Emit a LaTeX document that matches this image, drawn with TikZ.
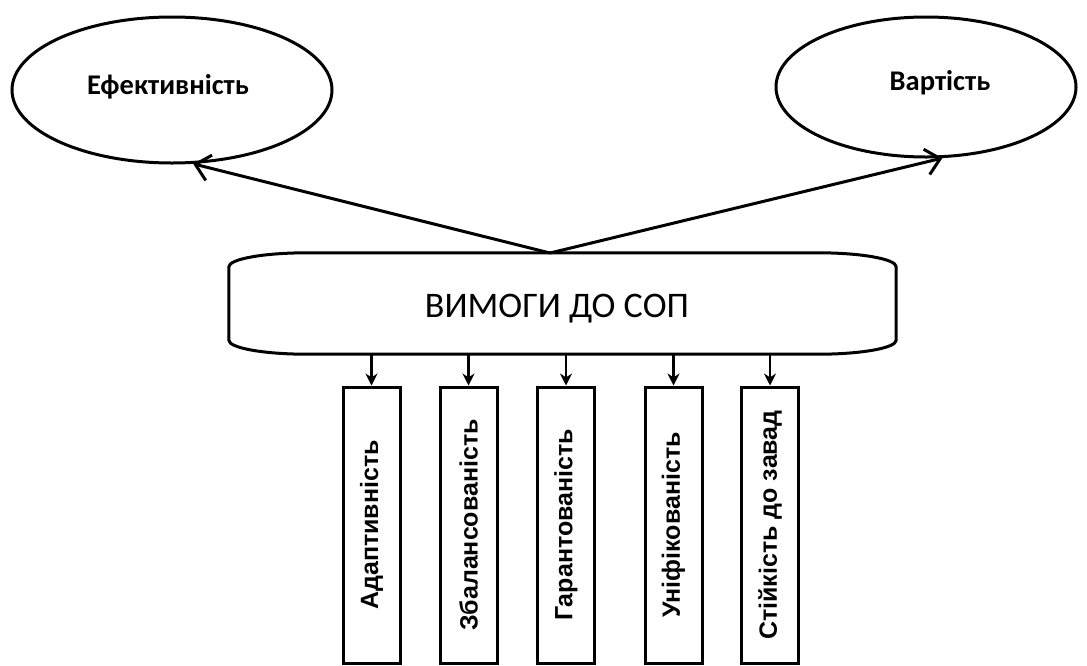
\documentclass[tikz,border=0pt]{standalone}
\usepackage{fontspec}
\usepackage{graphicx}
\usetikzlibrary{arrows.meta,shapes.geometric}
\newfontfamily\calibrifont{Carlito}
\newfontfamily\arialfont{Liberation Sans}

\tikzset{
  oval/.style={draw, ellipse, line width=3pt, inner sep=0pt},
  ovaltext/.style={font=\calibrifont\bfseries\fontsize{28.5}{32}\selectfont, inner sep=0pt},
  hub/.style={draw=none, minimum width=667pt, minimum height=101pt, inner sep=0pt},
  hubtext/.style={font=\calibrifont\fontsize{36}{40}\selectfont, inner sep=0pt},
  pillar/.style={draw, line width=3pt, minimum width=57pt, minimum height=276pt,
    inner sep=0pt, font=\arialfont\bfseries\fontsize{25}{28}\selectfont},
  bigarrow/.style={line width=3pt, -{Straight Barb[length=14pt,width=26pt,line width=3pt]}},
  smallarrow/.style={line width=2.4pt, -{Stealth[length=12pt,width=12pt]}}
}

\begin{document}
\begin{tikzpicture}[x=1pt, y=-1pt]
  \useasboundingbox (0,0) rectangle (1087,665);

  % outcome ovals
  \node[oval, minimum width=320pt, minimum height=146pt] (eff) at (172,90) {};
  \node[ovaltext] (efftext) at (168,87) {Ефективність};
  \node[oval, minimum width=300pt, minimum height=140pt] (cost) at (926,87) {};
  \node[ovaltext] (costtext) at (940,83) {Вартість};

  % central requirements block with flattened elliptic corners
  \node[hub] (req) at (562.5,303.5) {};
  \draw[line width=3pt]
    ([yshift=-14pt]req.north west)
      arc[start angle=180, end angle=90, x radius=78pt, y radius=14pt]
    -- ([xshift=-78pt]req.north east)
      arc[start angle=90, end angle=0, x radius=78pt, y radius=14pt]
    -- ([yshift=14pt]req.south east)
      arc[start angle=0, end angle=-90, x radius=78pt, y radius=14pt]
    -- ([xshift=78pt]req.south west)
      arc[start angle=270, end angle=180, x radius=78pt, y radius=14pt]
    -- cycle;
  \node[hubtext] (reqtext) at (557,309) {ВИМОГИ ДО СОП};

  % arrows to the ovals
  \coordinate (apex) at (550,253);
  \draw[bigarrow] (apex) -- (eff.-74);
  \draw[bigarrow] (apex) -- (cost.-77);

  % requirement pillars
  \node[pillar] (p1) at (371.5,525) {\rotatebox{90}{Адаптивність}};
  \node[pillar] (p2) at (468.5,525) {\rotatebox{90}{Збалансованість}};
  \node[pillar] (p3) at (566,525) {\rotatebox{90}{Гарантованість}};
  \node[pillar] (p4) at (673.5,525) {\rotatebox{90}{Уніфікованість}};
  \node[pillar] (p5) at (770,525) {\rotatebox{90}{Стійкість до завад}};

  \foreach \p in {p1,p2,p3,p4,p5}
    \draw[smallarrow] (req.south -| \p.north) -- (\p.north);
\end{tikzpicture}
\end{document}
